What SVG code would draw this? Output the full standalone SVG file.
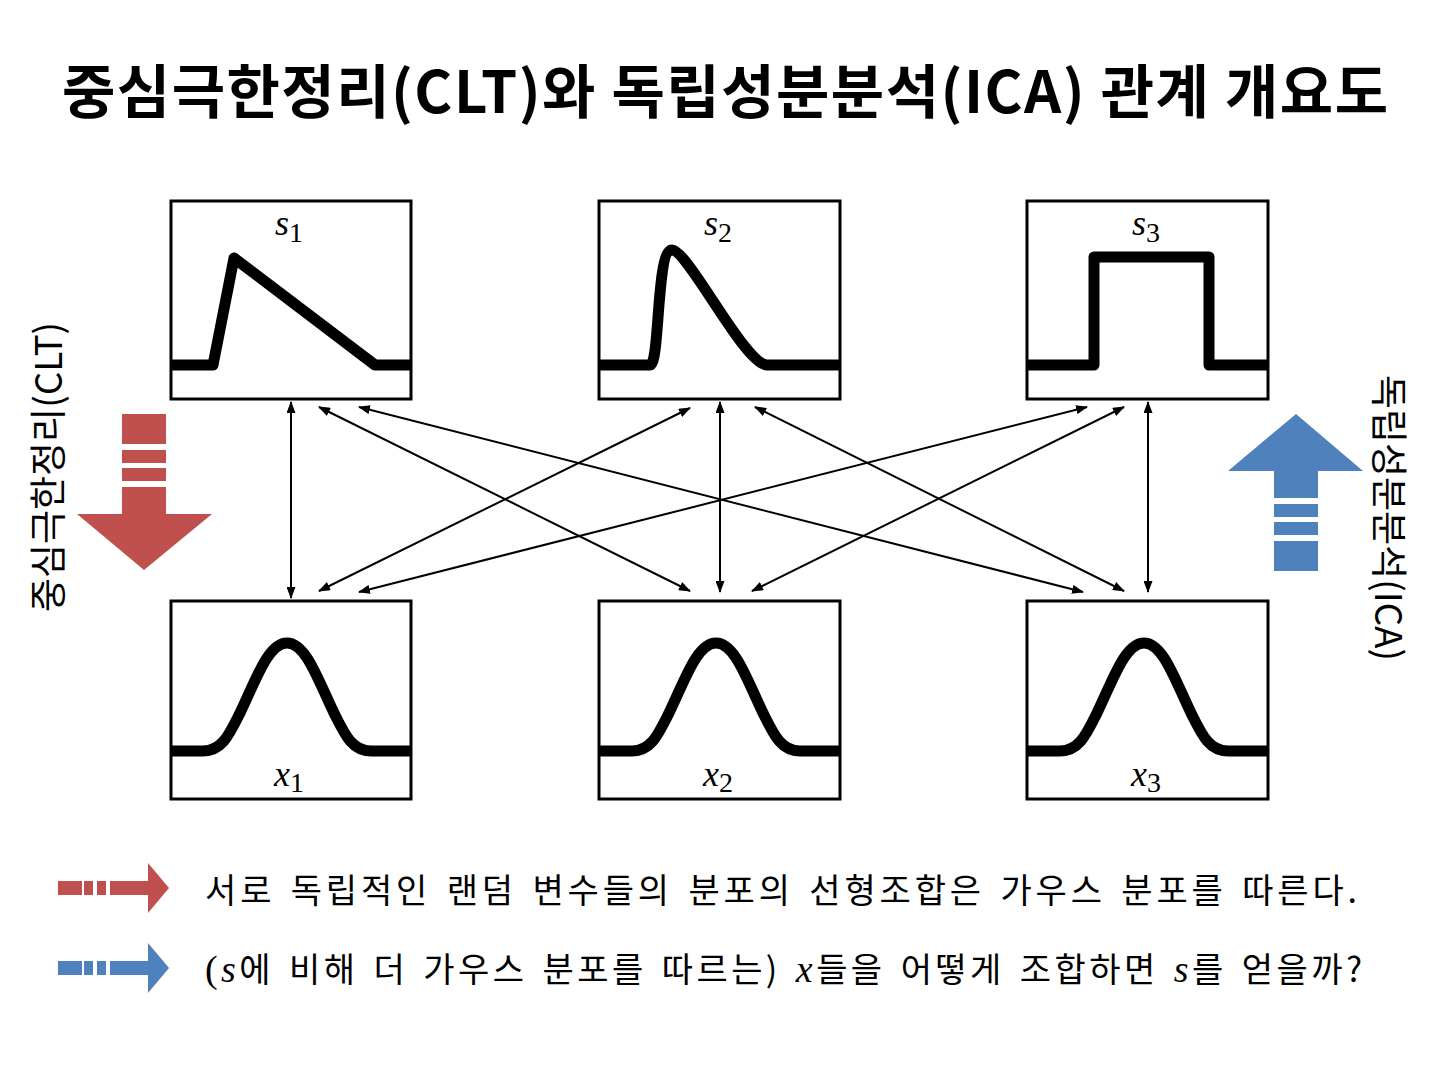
<svg xmlns="http://www.w3.org/2000/svg" width="1439" height="1080" viewBox="0 0 1439 1080">
<defs>
<style>
.box{fill:#fff;stroke:#000;stroke-width:3}
.curve{fill:none;stroke:#000;stroke-width:11;stroke-linejoin:round;stroke-linecap:butt}
.conn{stroke:#000;stroke-width:2;fill:none;marker-start:url(#ah);marker-end:url(#ah)}
.ko{font-family:"Noto Sans CJK KR","Noto Sans",sans-serif;fill:#000}
.title{font-size:58px;font-weight:700}
.side{font-size:37px}
.body{font-size:34px;word-spacing:4px}
.m{font-family:"Liberation Serif",serif;font-style:italic}
.mr{font-family:"Liberation Serif",serif}
.lab{font-size:36px}
.sub{font-size:28px;font-style:normal}
.red{fill:#C0504D}
.blue{fill:#4F81BD}
</style>
<marker id="ah" viewBox="0 0 12 9" refX="11" refY="4.5" markerWidth="12" markerHeight="9" markerUnits="userSpaceOnUse" orient="auto-start-reverse">
<path d="M0,0 L12,4.5 L0,9 z" fill="#000"/>
</marker>
</defs>
<rect width="1439" height="1080" fill="#fff"/>

<text class="ko title" x="62" y="113" textLength="1326" lengthAdjust="spacing">중심극한정리(CLT)와 독립성분분석(ICA) 관계 개요도</text>

<g id="s1">
<rect class="box" x="171" y="201" width="240" height="198"/>
<path class="curve" d="M171,365 L213,365 L234,258 L375,365 L411,365"/>
<text class="m lab" x="275" y="235">s<tspan class="sub" dy="7">1</tspan></text>
</g>
<g id="s2">
<rect class="box" x="599" y="201" width="241" height="198"/>
<path class="curve" d="M599,365 L650,365 C660,365 656,250 672,250 C688,250 745,365 767,365 L840,365"/>
<text class="m lab" x="704" y="235">s<tspan class="sub" dy="7">2</tspan></text>
</g>
<g id="s3">
<rect class="box" x="1027" y="201" width="241" height="198"/>
<path class="curve" d="M1027,365 L1094,365 L1094,257 L1209,257 L1209,365 L1268,365"/>
<text class="m lab" x="1132" y="235">s<tspan class="sub" dy="7">3</tspan></text>
</g>
<g id="x1">
<rect class="box" x="171" y="601" width="240" height="198"/>
<path class="curve" d="M171,751 L203,751 C222,751 229,735 240,713 C256,680 268,643 287,643 C306,643 318,680 334,713 C345,735 352,751 371,751 L411,751"/>
<text class="m lab" x="274" y="786">x<tspan class="sub" dy="6">1</tspan></text>
</g>
<g id="x2">
<rect class="box" x="599" y="601" width="241" height="198"/>
<path class="curve" d="M599,751 L632,751 C651,751 658,735 669,713 C685,680 697,643 716,643 C735,643 747,680 763,713 C774,735 781,751 800,751 L840,751"/>
<text class="m lab" x="703" y="786">x<tspan class="sub" dy="6">2</tspan></text>
</g>
<g id="x3">
<rect class="box" x="1027" y="601" width="241" height="198"/>
<path class="curve" d="M1027,751 L1060,751 C1079,751 1086,735 1097,713 C1113,680 1125,643 1144,643 C1163,643 1175,680 1191,713 C1202,735 1209,751 1228,751 L1268,751"/>
<text class="m lab" x="1131" y="786">x<tspan class="sub" dy="6">3</tspan></text>
</g>

<g id="connectors">
<line class="conn" x1="291" y1="402" x2="291" y2="598"/>
<line class="conn" x1="720" y1="402" x2="720" y2="592"/>
<line class="conn" x1="1148" y1="402" x2="1148" y2="592"/>
<line class="conn" x1="319" y1="407" x2="690" y2="591"/>
<line class="conn" x1="359" y1="407" x2="1083" y2="592"/>
<line class="conn" x1="690" y1="408" x2="319" y2="591"/>
<line class="conn" x1="755" y1="407" x2="1124" y2="591"/>
<line class="conn" x1="1087" y1="407" x2="359" y2="592"/>
<line class="conn" x1="1124" y1="407" x2="752" y2="591"/>
</g>

<g id="clt-arrow" class="red">
<rect x="122" y="414" width="44" height="30"/>
<rect x="122" y="450" width="44" height="13"/>
<rect x="122" y="468" width="44" height="13"/>
<polygon points="122,487 166,487 166,514 212,514 144,570 77,514 122,514"/>
</g>
<text class="ko side" transform="translate(62,467) rotate(-90)" text-anchor="middle">중심극한정리(CLT)</text>

<g id="ica-arrow" class="blue">
<rect x="1274" y="541" width="44" height="30"/>
<rect x="1274" y="522" width="44" height="13"/>
<rect x="1274" y="504" width="44" height="13"/>
<polygon points="1274,498 1318,498 1318,471 1363,471 1296,414 1228,471 1274,471"/>
</g>
<text class="ko side" transform="translate(1375,518) rotate(90)" text-anchor="middle">독립성분분석(ICA)</text>

<g id="legend-red" class="red">
<rect x="58" y="881" width="24" height="14"/>
<rect x="84" y="881" width="9" height="14"/>
<rect x="97" y="881" width="9" height="14"/>
<polygon points="110,881 148,881 148,863 169,888 148,913 148,895 110,895"/>
</g>
<text class="ko body" x="205" y="903" textLength="1152" lengthAdjust="spacing">서로 독립적인 랜덤 변수들의 분포의 선형조합은 가우스 분포를 따른다.</text>

<g id="legend-blue" class="blue">
<rect x="58" y="961" width="24" height="14"/>
<rect x="84" y="961" width="9" height="14"/>
<rect x="97" y="961" width="9" height="14"/>
<polygon points="110,961 148,961 148,943 169,968 148,993 148,975 110,975"/>
</g>
<text class="ko body" x="205" y="982" textLength="1157" lengthAdjust="spacing"><tspan class="mr" font-size="38">(</tspan><tspan class="m" font-size="38">s</tspan>에 비해 더 가우스 분포를 따르는) <tspan class="m" font-size="38">x</tspan>들을 어떻게 조합하면 <tspan class="m" font-size="38">s</tspan>를 얻을까?</text>
</svg>
